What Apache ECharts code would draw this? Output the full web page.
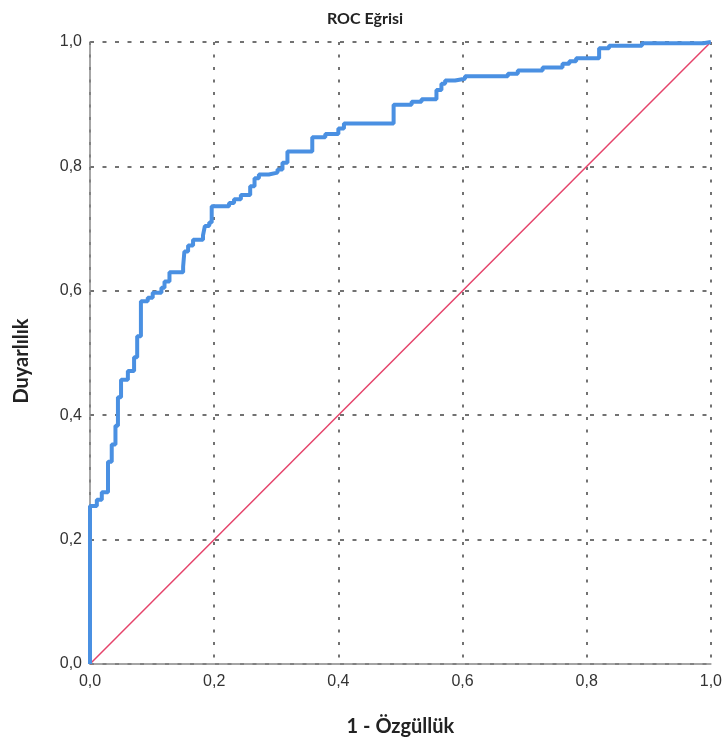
<!DOCTYPE html>
<html>
<head>
<meta charset="utf-8">
<script src="https://cdn.jsdelivr.net/npm/echarts@6/dist/echarts.min.js"></script>
<style>
html,body{margin:0;padding:0;background:#fff;}
#chart{width:725px;height:742px;}
</style>
</head>
<body>
<div id="chart"></div>
<script>
// 1 - Özgüllük (false positive rate) at each vertical step of the ROC curve
var fprValues = [0, 0, 0.011, 0.019, 0.029, 0.035, 0.041, 0.045, 0.050, 0.061, 0.071, 0.076, 0.082, 0.093, 0.101, 0.115, 0.120, 0.128, 0.150, 0.152, 0.158, 0.166, 0.182, 0.185, 0.192, 0.196, 0.224, 0.232, 0.243, 0.258, 0.265, 0.272, 0.288, 0.302, 0.310, 0.318, 0.358, 0.379, 0.400, 0.409, 0.489, 0.518, 0.534, 0.558, 0.566, 0.572, 0.588, 0.604, 0.673, 0.689, 0.729, 0.761, 0.772, 0.783, 0.820, 0.836, 0.889, 0.988, 1.0];
// Duyarlılık (sensitivity)
var tprValues = [0, 0.254, 0.264, 0.276, 0.325, 0.353, 0.383, 0.429, 0.457, 0.471, 0.493, 0.527, 0.583, 0.589, 0.597, 0.605, 0.615, 0.630, 0.639, 0.663, 0.673, 0.682, 0.689, 0.704, 0.710, 0.736, 0.741, 0.747, 0.754, 0.768, 0.781, 0.787, 0.790, 0.795, 0.806, 0.824, 0.847, 0.852, 0.861, 0.869, 0.899, 0.904, 0.908, 0.923, 0.933, 0.938, 0.941, 0.945, 0.949, 0.954, 0.959, 0.965, 0.969, 0.974, 0.990, 0.994, 0.998, 1.0, 1.0];
// reference diagonal
var diagX = [0, 1];
var diagY = [0, 1];

var rocData = fprValues.map(function (x, i) { return [x, tprValues[i]]; });
var diagData = diagX.map(function (x, i) { return [x, diagY[i]]; });

function fmt(v) { return v.toFixed(1).replace('.', ','); }

var tickFont = '"Liberation Sans Narrow","Liberation Sans",sans-serif';
var titleFont = 'Lato,"Open Sans",sans-serif';

var chart = echarts.init(document.getElementById('chart'), null, {renderer: 'canvas'});
chart.setOption({
  animation: false,
  backgroundColor: '#ffffff',
  title: {
    text: 'ROC Eğrisi',
    left: 360, top: 6, textAlign: 'center',
    textStyle: {fontFamily: titleFont, fontWeight: 'bold', fontSize: 16, color: '#222'}
  },
  grid: {left: 90, right: 11, top: 42, bottom: 77, containLabel: false},
  xAxis: {
    type: 'value', min: 0, max: 1, interval: 0.2,
    name: '1 - Özgüllük', nameLocation: 'middle', nameGap: 53,
    nameTextStyle: {fontFamily: titleFont, fontWeight: 'bold', fontSize: 20, color: '#222'},
    axisLine: {show: true, lineStyle: {color: '#888', width: 1.5}},
    axisTick: {show: false},
    axisLabel: {formatter: fmt, fontFamily: tickFont, fontSize: 16, color: '#333', margin: 10},
    splitLine: {show: true, lineStyle: {color: '#444', type: [3, 9.5], width: 1.5}}
  },
  yAxis: {
    type: 'value', min: 0, max: 1, interval: 0.2,
    name: 'Duyarlılık', nameLocation: 'middle', nameGap: 58, nameRotate: 90,
    nameTextStyle: {fontFamily: titleFont, fontWeight: 'bold', fontSize: 20, color: '#222', padding: [0, 16, 0, 0]},
    axisLine: {show: true, lineStyle: {color: '#888', width: 1.5}},
    axisTick: {show: false},
    axisLabel: {formatter: fmt, fontFamily: tickFont, fontSize: 16, color: '#333', margin: 8},
    splitLine: {show: true, lineStyle: {color: '#444', type: [4, 8.5], width: 1.5}}
  },
  series: [
    {
      type: 'line', data: diagData, symbol: 'none', z: 3,
      lineStyle: {color: '#e5436a', width: 1.5}
    },
    {
      type: 'line', data: rocData, step: 'end', symbol: 'none', z: 4,
      lineStyle: {color: '#4a90e2', width: 4}
    }
  ]
});
</script>
</body>
</html>
